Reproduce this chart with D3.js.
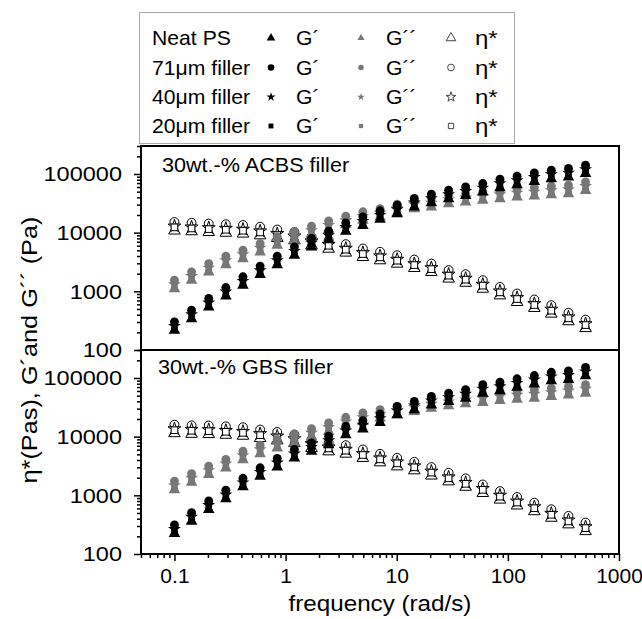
<!DOCTYPE html>
<html>
<head>
<meta charset="utf-8">
<script src="https://cdn.jsdelivr.net/npm/d3@7"></script>
<style>
  body { margin: 0; background: #fff; }
  text { font-family: "Liberation Sans", Arial, sans-serif; fill: #000; }
</style>
</head>
<body>
<div id="chart"></div>
<script>
const width = 642;
const height = 619;

// angular frequency (rad/s)
const freq = [0.1, 0.1426, 0.2034, 0.2901, 0.4137, 0.59, 0.841, 1.2, 1.711, 2.44, 3.48, 4.96, 7.08,
  10.09, 14.39, 20.5, 29.3, 41.7, 59.5, 84.9, 121, 173, 246, 351, 500];

const materials = ["Neat PS", "71\u03bcm filler", "40\u03bcm filler", "20\u03bcm filler"];
const panelLabels = ["30wt.-% ACBS filler", "30wt.-% GBS filler"];
const yMajorTicks = [100, 1000, 10000, 100000];
const xMajorTicks = [0.1, 1, 10, 100, 1000];

// ---- ACBS panel ----
const acbsNeatG1 = [215, 340, 538, 827, 1260, 1920, 2830, 4080, 5650, 7560, 10500, 13200, 16800, 20900, 27200, 32300, 37700, 42900, 48900, 58100, 65400, 74300, 82700, 87900, 101000];
const acbs71G1 = [302, 478, 755, 1160, 1770, 2690, 3980, 5730, 7940, 10600, 14700, 18600, 23600, 29400, 38200, 45300, 53000, 60300, 68700, 81700, 91800, 104000, 116000, 124000, 141000];
const acbs40G1 = [256, 405, 640, 985, 1500, 2280, 3370, 4860, 6730, 9000, 12450, 15750, 20000, 24900, 32400, 38400, 44900, 51100, 58200, 69200, 77800, 88500, 98400, 104700, 119700];
const acbs20G1 = [243, 385, 608, 936, 1430, 2170, 3200, 4620, 6390, 8550, 11800, 15000, 19000, 23700, 30800, 36500, 42700, 48500, 55300, 65700, 73900, 84100, 93500, 99500, 114000];

const acbsNeatG2 = [1100, 1530, 2120, 2830, 3580, 4650, 6050, 7480, 9200, 11300, 13600, 16100, 18300, 21800, 25500, 27100, 31000, 33100, 35400, 37700, 40200, 41800, 44100, 45900, 52200];
const acbs71G2 = [1550, 2150, 2970, 3980, 5030, 6530, 8500, 10500, 12900, 15900, 19100, 22700, 25700, 30600, 35800, 38100, 43500, 46500, 49700, 53000, 56500, 58800, 62000, 64400, 73400];
const acbs40G2 = [1315, 1820, 2520, 3370, 4260, 5530, 7200, 8900, 10950, 13460, 16200, 19200, 21800, 25900, 30300, 32300, 36900, 39400, 42100, 44900, 47900, 49800, 52500, 54600, 62200];
const acbs20G2 = [1250, 1730, 2390, 3200, 4050, 5250, 6840, 8460, 10400, 12800, 15400, 18200, 20700, 24600, 28800, 30700, 35100, 37400, 40000, 42700, 45500, 47300, 49900, 51900, 59100];

const acbsNeatEta = [10800, 10500, 10200, 9900, 9580, 8950, 8060, 7350, 6050, 5290, 4540, 3820, 3360, 2940, 2480, 2120, 1640, 1390, 1100, 848, 654, 517, 414, 307, 235];
const acbs71Eta = [15200, 14700, 14300, 13900, 13500, 12600, 11300, 10300, 8500, 7430, 6370, 5370, 4720, 4130, 3480, 2970, 2300, 1960, 1550, 1190, 918, 726, 582, 431, 330];
const acbs40Eta = [12900, 12450, 12100, 11800, 11400, 10650, 9600, 8750, 7200, 6300, 5400, 4550, 4000, 3500, 2950, 2520, 1950, 1660, 1315, 1010, 778, 615, 493, 365, 280];
const acbs20Eta = [12300, 11800, 11500, 11200, 10800, 10100, 9120, 8310, 6840, 5990, 5130, 4320, 3800, 3330, 2800, 2390, 1850, 1580, 1250, 960, 739, 584, 468, 347, 266];

// ---- GBS panel ----
const gbsNeatG1 = [223, 361, 571, 865, 1390, 2100, 3020, 4310, 5580, 7240, 10700, 13400, 17300, 23400, 28500, 34600, 39400, 44900, 54600, 60500, 69000, 78500, 89000, 94100, 108000];
const gbs71G1 = [314, 507, 802, 1220, 1950, 2950, 4250, 6050, 7840, 10200, 15000, 18800, 24300, 32900, 40000, 48600, 55300, 63000, 76700, 85000, 96900, 110000, 125000, 132000, 151000];
const gbs40G1 = [266, 430, 680, 1030, 1650, 2500, 3600, 5130, 6640, 8620, 12700, 15900, 20600, 27900, 33900, 41200, 46900, 53400, 65000, 72000, 82100, 93500, 106000, 112000, 128000];
const gbs20G1 = [253, 409, 646, 979, 1570, 2380, 3420, 4870, 6310, 8190, 12100, 15100, 19600, 26500, 32200, 39100, 44600, 50700, 61800, 68400, 78000, 88800, 101000, 106000, 122000];

const gbsNeatG2 = [1240, 1660, 2240, 2910, 4030, 5100, 6360, 7730, 9790, 12200, 15200, 18000, 20600, 23400, 26600, 30300, 33300, 36000, 37900, 41000, 43200, 44900, 47900, 51100, 54600];
const gbs71G2 = [1750, 2340, 3150, 4080, 5660, 7160, 8930, 10900, 13700, 17100, 21400, 25300, 28900, 32900, 37400, 42600, 46700, 50600, 53200, 57600, 60700, 63000, 67300, 71700, 76700];
const gbs40G2 = [1480, 1980, 2670, 3460, 4800, 6070, 7570, 9200, 11650, 14500, 18100, 21400, 24500, 27900, 31700, 36100, 39600, 42900, 45100, 48800, 51400, 53400, 57000, 60800, 65000];
const gbs20G2 = [1410, 1880, 2540, 3290, 4560, 5770, 7190, 8740, 11100, 13800, 17200, 20300, 23300, 26500, 30100, 34300, 37600, 40800, 42800, 46400, 48800, 50700, 54200, 57800, 61800];

const gbsNeatEta = [11400, 11100, 11000, 10700, 10300, 9410, 8570, 7730, 6360, 5580, 5100, 4310, 3630, 3100, 2650, 2160, 1720, 1390, 1090, 840, 667, 533, 412, 318, 244];
const gbs71Eta = [16000, 15600, 15500, 15000, 14500, 13200, 12000, 10900, 8930, 7840, 7160, 6050, 5100, 4350, 3730, 3030, 2420, 1950, 1530, 1180, 937, 749, 579, 446, 343];
const gbs40Eta = [13600, 13250, 13100, 12700, 12250, 11200, 10200, 9200, 7570, 6640, 6070, 5130, 4320, 3690, 3160, 2570, 2050, 1650, 1300, 1000, 794, 635, 491, 378, 291];
const gbs20Eta = [12900, 12600, 12400, 12100, 11600, 10600, 9690, 8740, 7190, 6310, 5770, 4870, 4100, 3510, 3000, 2440, 1950, 1570, 1240, 950, 754, 603, 466, 359, 276];

// tables built from the arrays above (per panel: one entry per material)
const panels = [
  { label: panelLabels[0], g1: [acbsNeatG1, acbs71G1, acbs40G1, acbs20G1], g2: [acbsNeatG2, acbs71G2, acbs40G2, acbs20G2], eta: [acbsNeatEta, acbs71Eta, acbs40Eta, acbs20Eta] },
  { label: panelLabels[1], g1: [gbsNeatG1, gbs71G1, gbs40G1, gbs20G1], g2: [gbsNeatG2, gbs71G2, gbs40G2, gbs20G2], eta: [gbsNeatEta, gbs71Eta, gbs40Eta, gbs20Eta] }
];

const shapes = [d3.symbolTriangle, d3.symbolCircle, d3.symbolStar, d3.symbolSquare];
const plotSize = [58, 62, 52, 44];
const legSizeBlack = [32, 34, 26, 24];
const legSizeGray = [22, 24, 18, 18];
const legSizeOpen = [40, 36, 30, 28];
const gray = "#777";

const plotLeft = 141, plotRight = 619;
const panelTop = [146, 350];
const panelH = 204;

const svg = d3.select("#chart").append("svg")
  .attr("width", width)
  .attr("height", height);

// stretched text, like the original figure
function addText(parent, str, x, y, size, sx, anchor) {
  return parent.append("text")
    .attr("transform", "translate(" + x + "," + y + ") scale(" + sx + ",1)")
    .attr("text-anchor", anchor || "start")
    .style("font-size", size + "px")
    .text(str);
}

const isDecade = (v) => Math.abs(Math.log10(v) - Math.round(Math.log10(v))) < 1e-6;

const x = d3.scaleLog().domain([0.05, 1000]).range([plotLeft, plotRight]);

panels.forEach((p, pi) => {
  const top = panelTop[pi];
  const y = d3.scaleLog().domain([100, 300000]).range([top + panelH, top]);
  const g = svg.append("g").attr("class", "panel");

  // minor y ticks
  const minor = g.append("g")
    .attr("transform", "translate(" + plotLeft + ",0)")
    .call(d3.axisLeft(y).tickValues(y.ticks().filter((v) => !isDecade(v))).tickSize(4).tickFormat(""));
  minor.select(".domain").remove();
  minor.selectAll("line").attr("stroke-width", 1.5);

  const major = g.append("g")
    .attr("transform", "translate(" + plotLeft + ",0)")
    .call(d3.axisLeft(y).tickValues(yMajorTicks).tickSize(7).tickPadding(10).tickFormat(d3.format("d")));
  major.select(".domain").remove();
  major.selectAll("line").attr("stroke-width", 1.5);
  major.selectAll("text")
    .style("font-size", "21px")
    .style("font-family", "'Liberation Sans', Arial, sans-serif")
    .attr("transform", "scale(1.12,1)");

  // series: eta* (open), G'' (gray), G' (black)
  const layers = [
    { key: "eta", fill: "#fff", stroke: "#000" },
    { key: "g2", fill: gray, stroke: "none" },
    { key: "g1", fill: "#000", stroke: "none" }
  ];
  layers.forEach((L) => {
    p[L.key].forEach((vals, mi) => {
      g.append("g")
        .selectAll("path")
        .data(vals)
        .enter()
        .append("path")
        .attr("d", d3.symbol().type(shapes[mi]).size(plotSize[mi]))
        .attr("transform", (d, i) => "translate(" + x(freq[i]) + "," + y(d) + ")")
        .attr("fill", L.fill)
        .attr("stroke", L.stroke)
        .attr("stroke-width", 1);
    });
  });

  // frame
  g.append("rect")
    .attr("x", plotLeft)
    .attr("y", top)
    .attr("width", plotRight - plotLeft)
    .attr("height", panelH)
    .attr("fill", "none")
    .attr("stroke", "#000")
    .attr("stroke-width", 2);

  addText(g, p.label, pi === 0 ? 162 : 158, pi === 0 ? 172 : 374, 20, 1.08);
});

// x axis
const xBottom = panelTop[1] + panelH;
const xMinor = svg.append("g")
  .attr("transform", "translate(0," + xBottom + ")")
  .call(d3.axisBottom(x).tickValues(x.ticks().filter((v) => !isDecade(v))).tickSize(4).tickFormat(""));
xMinor.select(".domain").remove();
xMinor.selectAll("line").attr("stroke-width", 1.5);
const xMajor = svg.append("g")
  .attr("transform", "translate(0," + xBottom + ")")
  .call(d3.axisBottom(x).tickValues(xMajorTicks).tickSize(7).tickPadding(7).tickFormat((d) => d3.format("~g")(d)));
xMajor.select(".domain").remove();
xMajor.selectAll("line").attr("stroke-width", 1.5);
xMajor.selectAll("text")
  .style("font-size", "21px")
  .style("font-family", "'Liberation Sans', Arial, sans-serif");

addText(svg, "frequency (rad/s)", (plotLeft + plotRight) / 2, 611, 22, 1.1, "middle");

// y title
svg.append("text")
  .attr("transform", "translate(37,350) rotate(-90) scale(1.15,1)")
  .attr("text-anchor", "middle")
  .style("font-size", "22px")
  .text("\u03b7*(Pas), G\u00b4and G\u00b4\u00b4 (Pa)");

// legend
const legend = svg.append("g").attr("class", "legend");
legend.append("rect")
  .attr("x", 139.5)
  .attr("y", 12.5)
  .attr("width", 375)
  .attr("height", 131)
  .attr("fill", "#fff")
  .attr("stroke", "#aaa")
  .attr("stroke-width", 1);

const rowY = [38, 67.5, 97, 126];
materials.forEach((m, mi) => {
  const ry = rowY[mi];
  addText(legend, m, 152, ry + 7, 20, 1.06);
  legend.append("path")
    .attr("d", d3.symbol().type(shapes[mi]).size(legSizeBlack[mi]))
    .attr("transform", "translate(271," + ry + ")")
    .attr("fill", "#000");
  addText(legend, "G\u00b4", 296, ry + 7, 20, 1.06);
  legend.append("path")
    .attr("d", d3.symbol().type(shapes[mi]).size(legSizeGray[mi]))
    .attr("transform", "translate(361," + ry + ")")
    .attr("fill", gray);
  addText(legend, "G\u00b4\u00b4", 386, ry + 7, 20, 1.06);
  legend.append("path")
    .attr("d", d3.symbol().type(shapes[mi]).size(legSizeOpen[mi]))
    .attr("transform", "translate(451," + ry + ")")
    .attr("fill", "#fff")
    .attr("stroke", "#444")
    .attr("stroke-width", 1);
  addText(legend, "\u03b7*", 475, ry + 7, 20, 1.2);
});
</script>
</body>
</html>
